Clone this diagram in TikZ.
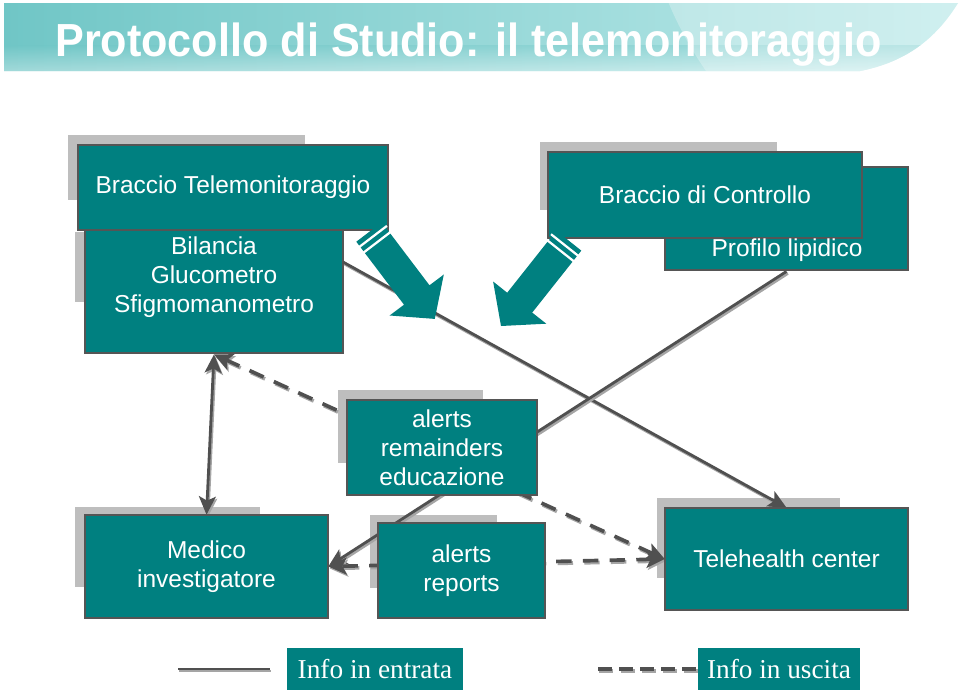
\documentclass[tikz,border=0pt]{standalone}
\usepackage{fontspec}
\usepackage{graphicx}
\setmainfont{Liberation Sans}
\newfontfamily\legfont{Liberation Serif}
\usetikzlibrary{arrows.meta}
\definecolor{tealbox}{RGB}{0,128,128}
\definecolor{bordergray}{RGB}{85,85,85}
\definecolor{shadowgray}{RGB}{190,190,190}
\definecolor{linegray}{RGB}{80,80,80}
\definecolor{lineshadow}{RGB}{165,165,165}
\definecolor{banL}{RGB}{112,198,198}
\definecolor{banR}{RGB}{190,234,234}
\begin{document}
\begin{tikzpicture}[x=0.025cm,y=-0.025cm,
  box/.style={draw=bordergray, line width=2pt, fill=tealbox, text=white, align=center,
    inner sep=0pt, font=\fontsize{17.4}{20.8}\selectfont},
  boxtxt/.style={text=white, align=center, inner sep=0pt, font=\fontsize{17.4}{20.8}\selectfont},
  shbox/.style={fill=shadowgray},
  conn/.style={draw=linegray, line width=2pt},
  connsh/.style={draw=lineshadow, line width=2pt, transform canvas={xshift=1pt,yshift=-1.4pt}},
  dconn/.style={draw=linegray, line width=2.6pt, dash pattern=on 11pt off 8pt},
  dconnsh/.style={draw=lineshadow, line width=2.6pt, dash pattern=on 11pt off 8pt, transform canvas={xshift=1pt,yshift=-1.4pt}},
  tip/.style={-{Stealth[length=13pt,width=12pt,inset=3pt]}},
  tips/.style={{Stealth[length=13pt,width=12pt,inset=3pt]}-{Stealth[length=13pt,width=12pt,inset=3pt]}},
  blockarrow/.style={fill=tealbox},
  stripe/.style={draw=white, line width=1.6pt},
  legbox/.style={fill=tealbox, text=white, inner sep=0pt, font=\legfont\fontsize{19.4}{22}\selectfont}
]
\useasboundingbox (0,0) rectangle (960,693);
\fill[white] (0,0) rectangle (960,693);

% ---------- title banner ----------
\begin{scope}
  \clip (4,3) -- (958,3) .. controls (935,40) and (905,62) .. (860,71) -- (4,71) -- cycle;
  \shade[left color=banL, right color=banR] (4,3) rectangle (960,71);
  \shade[top color=banL, bottom color=white, opacity=0.35] (4,45) rectangle (960,71);
  \fill[white, opacity=0.28] (1010,-140) circle (370);
\end{scope}
\node[anchor=base west, text=white, inner sep=0pt,
  font=\bfseries\fontsize{33}{36}\selectfont] (title) at (55,56) {\scalebox{0.93}[1]{Protocollo di Studio: il telemonitoraggio}};

% ---------- shadows ----------
\fill[shbox] (68,135) rectangle (305,200);
\fill[shbox] (75,232) rectangle (300,302);
\fill[shbox] (540,142) rectangle (777,210);
\fill[shbox] (338,390) rectangle (483,463);
\fill[shbox] (75,507) rectangle (260,587);
\fill[shbox] (370,515) rectangle (497,588);
\fill[shbox] (657,498) rectangle (840,578);

% ---------- nodes (geometry only, for anchors) ----------
\path
  (214,291.5) node[box, minimum width=6.45cm, minimum height=3.075cm] (bil) {}
  (786.5,218.5) node[box, minimum width=6.075cm, minimum height=2.575cm] (prof) {}
  (442,447.5) coordinate (alrC)
  (206.5,566.5) coordinate (medC)
  (461.5,570.5) coordinate (alrRC)
  (786.5,559) coordinate (teleC);

\node[boxtxt] (bilTxt) at (214,277) {Bilancia\\Glucometro\\Sfigmomanometro};

% invisible anchors for lower boxes (drawn later on top of the lines)
\path (medC) node[minimum width=6.075cm, minimum height=2.575cm, inner sep=0pt] (med) {};
\path (teleC) node[minimum width=6.075cm, minimum height=2.55cm, inner sep=0pt] (tele) {};
\coordinate (s1) at (343,262);

% ---------- connectors ----------
% solid: Bilancia -> Telehealth
\draw[connsh, tip] (s1) -- (tele.north);
\draw[conn, tip] (s1) -- (tele.north);
% solid: Profilo lipidico -> Medico
\draw[connsh, tip] (prof.south) -- (med.east);
\draw[conn, tip] (prof.south) -- (med.east);
% solid double arrow Bilancia <-> Medico
\draw[connsh, tips] (bil.south) -- (med.north);
\draw[conn, tips] (bil.south) -- (med.north);
% dashed: Telehealth <-> Bilancia
\draw[dconnsh, tips] (tele.west) -- (bil.south);
\draw[dconn, tips] (tele.west) -- (bil.south);
% dashed: Telehealth <-> Medico
\draw[dconnsh, tips] (tele.west) -- (med.east);
\draw[dconn, tips] (tele.west) -- (med.east);

% ---------- boxes on top ----------
\node[box, minimum width=7.75cm, minimum height=2.125cm] (hdrT) at (233,187.5) {Braccio Telemonitoraggio};
\node[box, minimum width=7.85cm, minimum height=2.15cm] (hdrC) at (705,195) {Braccio di Controllo};
\node[boxtxt] (profTxt) at (787,250) {Profilo lipidico};
\node[box, minimum width=4.75cm, minimum height=2.375cm] (alr) at (alrC) {alerts\\remainders\\educazione};
\node[box, minimum width=6.075cm, minimum height=2.575cm] (medBox) at (medC) {Medico\\investigatore};
\node[box, minimum width=4.175cm, minimum height=2.375cm] (alrR) at (alrRC) {alerts\\reports};
\node[box, minimum width=6.075cm, minimum height=2.55cm] (teleBox) at (teleC) {Telehealth center};

% ---------- block arrows ----------
\fill[blockarrow] (381.8,222.3) -- (429.5,285.3) -- (443.8,274.5) -- (434.8,318.9)
  -- (389.6,315.5) -- (404.0,304.7) -- (356.3,241.7) -- cycle;
\draw[stripe] (386.9,225.9) -- (358.3,247.7);
\draw[stripe] (391.2,231.5) -- (362.6,253.3);

\fill[blockarrow] (581.3,250.6) -- (532.2,312.6) -- (546.3,323.7) -- (501,326)
  -- (493.1,281.5) -- (507.2,292.7) -- (556.3,230.7) -- cycle;
\draw[stripe] (579.2,256.6) -- (551.0,234.2);
\draw[stripe] (574.8,262.1) -- (546.6,239.7);

% ---------- legend ----------
\coordinate (la) at (178,669);
\coordinate (lb) at (270,669);
\coordinate (lc) at (598,669);
\coordinate (ld) at (698,669);
\draw[connsh] (la) -- (lb);
\draw[conn] (la) -- (lb);
\draw[dconnsh, dash pattern=on 10pt off 5pt] (lc) -- (ld);
\draw[dconn, dash pattern=on 10pt off 5pt] (lc) -- (ld);
\node[legbox, minimum width=4.4cm, minimum height=1.05cm] (legIn) at (375,669) {Info in entrata};
\node[legbox, minimum width=4.05cm, minimum height=1.05cm] (legOut) at (779,669) {Info in uscita};
\end{tikzpicture}
\end{document}
